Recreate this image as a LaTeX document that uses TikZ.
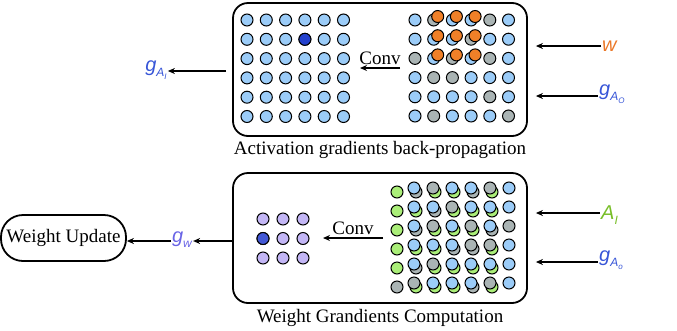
\documentclass[tikz,border=0pt]{standalone}
\usepackage{fontspec}
\setmainfont{Liberation Serif}
\newfontfamily\symfont{Liberation Sans}
\usetikzlibrary{positioning,arrows.meta}

\definecolor{cellB}{RGB}{155,204,248}
\definecolor{cellR}{RGB}{170,180,180}
\definecolor{cellG}{RGB}{170,238,120}
\definecolor{cellO}{RGB}{240,128,40}
\definecolor{celldark}{RGB}{35,65,205}
\definecolor{cellpurple}{RGB}{195,182,245}
\definecolor{txtblue}{RGB}{55,85,215}
\definecolor{txtorange}{RGB}{235,120,40}
\definecolor{txtgreen}{RGB}{120,190,40}
\definecolor{txtpurple}{RGB}{105,100,230}

\tikzstyle{stage} = [rectangle, draw, rounded corners=15pt, line width=1.8pt,
minimum width=294pt, minimum height=133pt, inner sep=0pt]
\tikzstyle{update} = [rectangle, draw, rounded corners=22pt, line width=1.8pt,
minimum width=125pt, minimum height=46pt, font=\fontsize{19}{22}\selectfont]
\tikzstyle{caption} = [font=\fontsize{19}{22}\selectfont, inner sep=1pt]
\tikzstyle{sym} = [font=\symfont\itshape\fontsize{20}{22}\selectfont, inner sep=1pt]
\tikzstyle{arrow} = [line width=1.6pt,-{Stealth[length=7pt,width=6pt]},draw]
\tikzstyle{cell} = [draw, line width=1pt]

\newcommand{\gsub}[1]{g\raisebox{-5pt}{\fontsize{12}{12}\selectfont #1}}
\newcommand{\subsub}[1]{\raisebox{-2.5pt}{\fontsize{8}{8}\selectfont #1}}

\begin{document}
\begin{tikzpicture}[x=1pt, y=-1pt]
	\useasboundingbox (0,0) rectangle (677,330);
	%boxes and captions
	\node[stage](actbox) at (380,69.5){};
	\node[caption, below=3pt of actbox](actcap){Activation gradients back-propagation};
	\node[stage, minimum height=130pt](wgtbox) at (380,238){};
	\node[caption, below=4pt of wgtbox](wgtcap){Weight Grandients Computation};
	\node[update](wupdate) at (63.5,238){Weight Update};

	%labels
	\node[sym, anchor=west, text=txtorange](w) at (601,46){w};
	\node[sym, anchor=west, text=txtblue](gao) at (598,94){\gsub{A\subsub{O}}};
	\node[sym, anchor=west, text=txtgreen](ai) at (600,215){A\raisebox{-5pt}{\fontsize{12}{12}\selectfont I}};
	\node[sym, anchor=west, text=txtblue](gaob) at (598,260){\gsub{A\subsub{o}}};
	\node[sym, text=txtblue](gai) at (156,70){\gsub{A\subsub{I}}};
	\node[sym, text=txtpurple](gw) at (182,240){\gsub{w}};

	%edges
	\path[arrow] (w.west) -- ([xshift=8pt]actbox.east |- w.west);
	\path[arrow] ([yshift=-2pt]gao.west) -- ([xshift=8pt,yshift=-2pt]actbox.east |- gao.west);
	\path[arrow] ([yshift=2pt]ai.west) -- ([xshift=8pt,yshift=2pt]wgtbox.east |- ai.west);
	\path[arrow] ([yshift=-2pt]gaob.west) -- ([xshift=8pt,yshift=-2pt]wgtbox.east |- gaob.west);
	\path[arrow] ([xshift=-6pt,yshift=-1pt]actbox.west |- gai) -- ([yshift=-1pt]gai.east);
	\path[arrow] ([yshift=-1pt]wgtbox.west |- gw) -- ([yshift=-1pt]gw.east);
	\path[arrow] ([yshift=-1pt]gw.west) -- ([yshift=-1pt]wupdate.east |- gw.west);

	%conv arrows
	\coordinate (topin) at (400,68);
	\coordinate (topout) at (360,68);
	\path[arrow] (topin) -- (topout) node[midway, above=2pt, caption]{Conv};
	\coordinate (botin) at (383,238);
	\coordinate (botout) at (323,238);
	\path[arrow] (botin) -- (botout) node[midway, above=2pt, caption]{Conv};

	%input gradients
	\foreach \i in {0,...,5}
		\foreach \j in {0,...,5}
			\draw[cell, fill=cellB] ({247+19.3*\j},{20+19.3*\i}) circle[radius=6pt];
	\draw[cell, fill=celldark] ({247+19.3*3},{20+19.3*1}) circle[radius=6pt];

	%output gradients and weights
	\foreach \rowlist [count=\i from 0] in {{B,R,B,B,R,B},{B,B,B,R,B,B},{R,B,R,B,R,B},
		{B,R,R,B,B,B},{B,B,B,B,R,B},{B,R,B,B,B,R}}
		\foreach \c [count=\j from 0] in \rowlist
			\draw[cell, fill=cell\c] ({415+18.7*\j},{20+19.2*\i}) circle[radius=6pt];
	\foreach \i in {0,1,2}
		\foreach \j in {1,2,3}
			\draw[cell, fill=cellO] ({419+18.7*\j},{16.5+19.2*\i}) circle[radius=6pt];

	%activations
	\foreach \rowlist [count=\i from 0] in {{G,R,G,G,R,G},{G,G,R,G,G,G},{G,R,G,G,G,R},
		{G,G,G,R,R,G},{G,R,G,G,G,G},{R,G,G,G,R,G}}
		\foreach \c [count=\j from 0] in \rowlist
			\draw[cell, fill=cell\c] ({397+19*\j},{192+19*\i}) circle[radius=6pt];
	\foreach \rowlist [count=\i from 0] in {{B,R,B,B,R,B},{B,B,R,B,B,B},{B,R,B,R,B,R},
		{B,B,B,R,R,B},{B,R,B,B,B,B},{R,B,B,B,R,B}}
		\foreach \c [count=\j from 0] in \rowlist
			\draw[cell, fill=cell\c] ({414+19*\j},{188+19*\i}) circle[radius=6pt];

	%weight gradients
	\foreach \i in {0,1,2}
		\foreach \j in {0,1,2}
			\draw[cell, fill=cellpurple] ({263+20*\j},{219+19.5*\i}) circle[radius=6pt];
	\draw[cell, fill=celldark!80!cellpurple] (263,238.5) circle[radius=6pt];
\end{tikzpicture}
\end{document}
